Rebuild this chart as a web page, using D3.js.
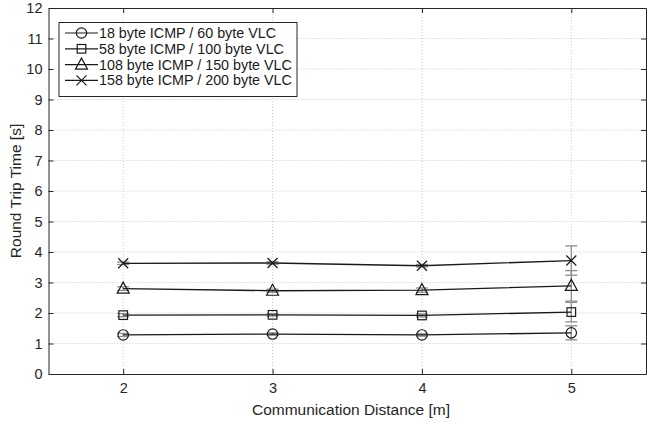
<!DOCTYPE html>
<html>
<head>
<meta charset="utf-8">
<script src="https://cdn.jsdelivr.net/npm/d3@7"></script>
<style>
  body { margin: 0; background: #fff; }
  text { font-family: "Liberation Sans", Arial, Helvetica, sans-serif; }
</style>
</head>
<body>
<script>
// data
const distances = [2, 3, 4, 5];
const seriesNames = [
  "18 byte ICMP / 60 byte VLC",
  "58 byte ICMP / 100 byte VLC",
  "108 byte ICMP / 150 byte VLC",
  "158 byte ICMP / 200 byte VLC"
];
const markers = ["circle", "square", "triangle", "cross"];
const rtt18  = [1.28, 1.31, 1.28, 1.35];
const rtt58  = [1.93, 1.94, 1.92, 2.03];
const rtt108 = [2.80, 2.73, 2.75, 2.89];
const rtt158 = [3.63, 3.64, 3.55, 3.72];
const err18  = [0.05, 0.04, 0.04, 0.23];
const err58  = [0.05, 0.04, 0.05, 0.32];
const err108 = [0.06, 0.05, 0.07, 0.50];
const err158 = [0.04, 0.04, 0.04, 0.48];
const yTicks = d3.range(0, 13);

const WIDTH = 647, HEIGHT = 424;
const margin = {top: 8, right: 1, bottom: 50, left: 48.5};
const width = WIDTH - margin.left - margin.right;
const height = HEIGHT - margin.top - margin.bottom;

const values = [rtt18, rtt58, rtt108, rtt158];
const errors = [err18, err58, err108, err158];

const svg = d3.select("body").append("svg")
    .attr("width", WIDTH)
    .attr("height", HEIGHT);

const g = svg.append("g")
    .attr("transform", "translate(" + margin.left + "," + margin.top + ")");

const x = d3.scaleLinear().domain([1.5, 5.5]).range([0, width]);
const y = d3.scaleLinear().domain([0, 12]).range([height, 0]);

// grid
g.append("g").selectAll("line").data(yTicks.slice(1, -1)).enter().append("line")
    .attr("x1", 0).attr("x2", width)
    .attr("y1", d => y(d)).attr("y2", d => y(d))
    .attr("stroke", "#c8c8c8").attr("stroke-width", 1)
    .attr("stroke-dasharray", "1,2");
g.append("g").selectAll("line").data(distances).enter().append("line")
    .attr("y1", 0).attr("y2", height)
    .attr("x1", d => x(d)).attr("x2", d => x(d))
    .attr("stroke", "#c8c8c8").attr("stroke-width", 1)
    .attr("stroke-dasharray", "1,2");

// axes (MATLAB style box with inner ticks)
const axisColor = "#262626";
const xAxis = g.append("g").attr("transform", "translate(0," + height + ")")
    .call(d3.axisBottom(x).tickValues(distances).tickFormat(d3.format("d"))
        .tickSizeInner(-5).tickSizeOuter(0).tickPadding(9));
const yAxis = g.append("g")
    .call(d3.axisLeft(y).tickValues(yTicks).tickSizeInner(-5).tickSizeOuter(0).tickPadding(6));
const xTop = g.append("g")
    .call(d3.axisTop(x).tickValues(distances).tickSizeInner(-5).tickSizeOuter(0).tickFormat(""));
const yRight = g.append("g").attr("transform", "translate(" + width + ",0)")
    .call(d3.axisRight(y).tickValues(yTicks).tickSizeInner(-5).tickSizeOuter(0).tickFormat(""));

[xAxis, yAxis, xTop, yRight].forEach(a => {
  a.select(".domain").attr("stroke", axisColor).attr("stroke-width", 1);
  a.selectAll(".tick line").attr("stroke", axisColor);
  a.selectAll(".tick text").attr("fill", axisColor).attr("font-size", 14.5)
      .style("font-family", "'Liberation Sans', Arial, sans-serif");
});

// error bars
const errColor = "#8c8c8c";
values.forEach((vals, s) => {
  const eb = g.append("g").attr("stroke", errColor).attr("stroke-width", 1.3);
  vals.forEach((v, i) => {
    const cx = x(distances[i]);
    const lo = y(v - errors[s][i]), hi = y(v + errors[s][i]);
    eb.append("line").attr("x1", cx).attr("x2", cx).attr("y1", lo).attr("y2", hi);
    eb.append("line").attr("x1", cx - 6).attr("x2", cx + 6).attr("y1", lo).attr("y2", lo);
    eb.append("line").attr("x1", cx - 6).attr("x2", cx + 6).attr("y1", hi).attr("y2", hi);
  });
});

// marker drawing
function drawMarker(sel, type, cx, cy) {
  const m = sel.append("g").attr("transform", "translate(" + cx + "," + cy + ")")
      .attr("fill", "none").attr("stroke", "#1a1a1a").attr("stroke-width", 1.2);
  if (type === "circle") {
    m.append("circle").attr("r", 5.2);
  } else if (type === "square") {
    m.append("rect").attr("x", -4.3).attr("y", -4.3).attr("width", 8.6).attr("height", 8.6);
  } else if (type === "triangle") {
    m.append("path").attr("d", "M0,-6.5L6,4.5L-6,4.5Z");
  } else {
    m.append("path").attr("d", "M-5,-5L5,5M-5,5L5,-5");
  }
}

// lines + markers
const line = d3.line().x((d, i) => x(distances[i])).y(d => y(d));
values.forEach((vals, s) => {
  g.append("path").datum(vals)
      .attr("d", line)
      .attr("fill", "none")
      .attr("stroke", "#1a1a1a")
      .attr("stroke-width", 1.3);
  vals.forEach((v, i) => drawMarker(g, markers[s], x(distances[i]), y(v)));
});

// axis labels
g.append("text")
    .attr("x", 351 - margin.left).attr("y", height + 41)
    .attr("text-anchor", "middle")
    .attr("font-size", 15.5).attr("fill", axisColor)
    .text("Communication Distance [m]");
g.append("text")
    .attr("transform", "rotate(-90)")
    .attr("x", -height / 2).attr("y", -28)
    .attr("text-anchor", "middle")
    .attr("font-size", 15.5).attr("fill", axisColor)
    .text("Round Trip Time [s]");

// legend
const legend = svg.append("g").attr("transform", "translate(59,22.5)");
legend.append("rect")
    .attr("width", 238).attr("height", 74)
    .attr("fill", "#fff").attr("stroke", axisColor).attr("stroke-width", 1);
seriesNames.forEach((name, i) => {
  const ly = 10.5 + i * 15.8;
  legend.append("line")
      .attr("x1", 6).attr("x2", 39).attr("y1", ly).attr("y2", ly)
      .attr("stroke", "#1a1a1a").attr("stroke-width", 1.2);
  drawMarker(legend, markers[i], 22.5, ly);
  legend.append("text")
      .attr("x", 40).attr("y", ly)
      .attr("dy", "0.35em")
      .attr("font-size", 14.3).attr("fill", "#1a1a1a")
      .text(name);
});
</script>
</body>
</html>
